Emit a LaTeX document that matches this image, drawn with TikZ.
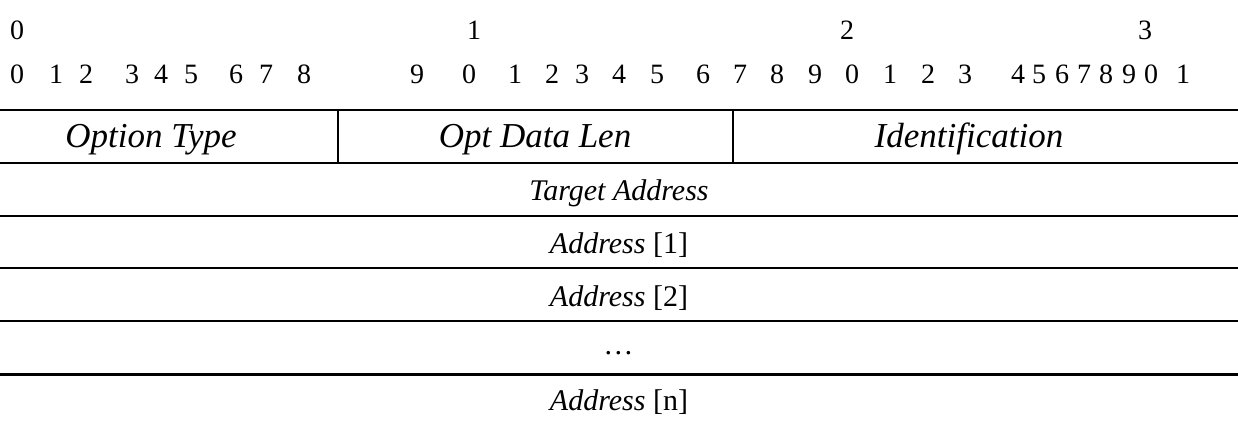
\documentclass[tikz,border=0pt]{standalone}
\usepackage{fontspec}
\setmainfont{Liberation Serif}
\begin{document}
\begin{tikzpicture}[x=1pt,y=-1pt,
  rule/.style={line width=2.4pt},
  bitnum/.style={inner sep=0pt,anchor=base,font=\fontsize{28}{28}\selectfont},
  hdr/.style={inner sep=0pt,anchor=base,font=\fontsize{35}{35}\selectfont\itshape},
  fld/.style={inner sep=0pt,anchor=base,font=\fontsize{30}{30}\selectfont}]
\useasboundingbox (0,0) rectangle (1238,425);
% tens row of bit numbers
\foreach \d/\x [count=\i] in {0/17,1/474,2/847,3/1145}
  \node[bitnum] (t\i) at (\x,40) {\d};
% units row of bit numbers
\foreach \d/\x [count=\i] in {0/17,1/56,2/86,3/132,4/161,5/191,6/236,7/266,8/304,
  9/417,0/469,1/515,2/552,3/582,4/619,5/657,6/703,7/740,8/777,9/815,
  0/852,1/890,2/928,3/965,4/1018,5/1039,6/1062,7/1084,8/1106,9/1129,0/1151,1/1183}
  \node[bitnum] (u\i) at (\x,84) {\d};
% horizontal rules between rows
\coordinate (r0l) at (0,110);   \coordinate (r0r) at (1238,110);
\coordinate (r1l) at (0,163);   \coordinate (r1r) at (1238,163);
\coordinate (r2l) at (0,216);   \coordinate (r2r) at (1238,216);
\coordinate (r3l) at (0,268);   \coordinate (r3r) at (1238,268);
\coordinate (r4l) at (0,321);   \coordinate (r4r) at (1238,321);
\coordinate (r5l) at (0,374);   \coordinate (r5r) at (1238,374);
\foreach \k in {0,1,2,3} \draw[rule] (r\k l) -- (r\k r);
\draw[line width=1.8pt] (r4l) -- (r4r);
\draw[line width=3pt] (r5l) -- (r5r);
% vertical dividers in the first row
\coordinate (d1t) at (338,110); \coordinate (d1b) at (338,163);
\coordinate (d2t) at (733,110); \coordinate (d2b) at (733,163);
\draw[rule] (d1t) -- (d1b);
\draw[rule] (d2t) -- (d2b);
% field labels
\node[hdr] (otype) at (151,147) {Option Type};
\node[hdr] (olen)  at (535,147) {Opt Data Len};
\node[hdr] (ident) at (969,147) {Identification};
\node[fld] (tgt) at (619,200) {\textit{Target Address}};
\node[fld] (a1)  at (619,253) {\textit{Address} [1]};
\node[fld] (a2)  at (619,306) {\textit{Address} [2]};
\node[fld] (dots) at (619,354) {\textit{…}};
\node[fld] (an)  at (619,410) {\textit{Address} [n]};
\end{tikzpicture}
\end{document}
